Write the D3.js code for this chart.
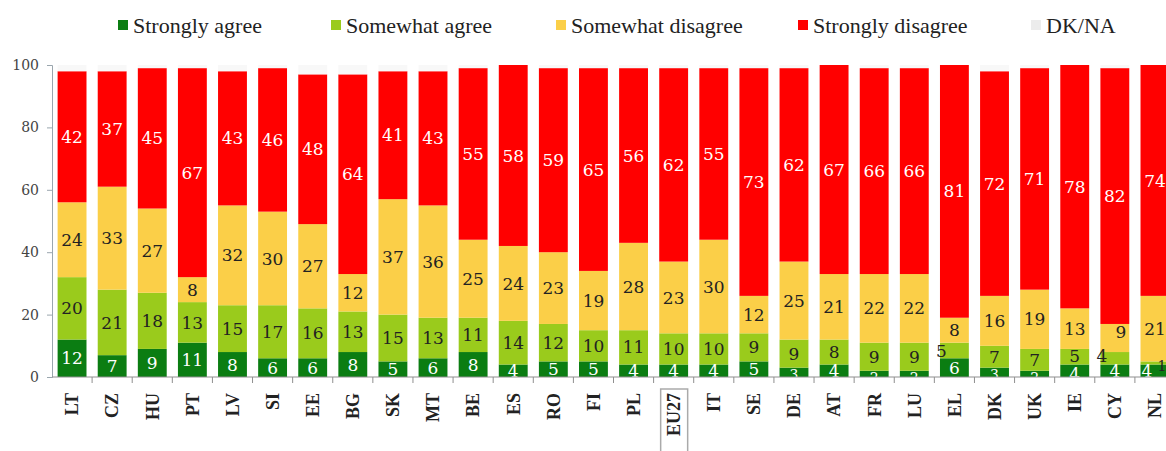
<!DOCTYPE html>
<html>
<head>
<meta charset="utf-8">
<script src="https://cdn.jsdelivr.net/npm/d3@7"></script>
<style>
  body { margin: 0; background: #fff; }
  svg { display: block; }
</style>
</head>
<body>
<div id="chart"></div>
<script>
// countries, left to right
var countries = ["LT", "CZ", "HU", "PT", "LV", "SI", "EE", "BG", "SK", "MT", "BE", "ES", "RO", "FI",
  "PL", "EU27", "IT", "SE", "DE", "AT", "FR", "LU", "EL", "DK", "UK", "IE", "CY", "NL"]

var seriesNames = ["Strongly agree", "Somewhat agree", "Somewhat disagree", "Strongly disagree", "DK/NA"]

var stronglyAgree    = [12, 7, 9, 11, 8, 6, 6, 8, 5, 6, 8, 4, 5, 5, 4, 4, 4, 5, 3, 4, 2, 2, 6, 3, 2, 4, 4, 4]
var somewhatAgree    = [20, 21, 18, 13, 15, 17, 16, 13, 15, 13, 11, 14, 12, 10, 11, 10, 10, 9, 9, 8, 9, 9, 5, 7, 7, 5, 4, 1]
var somewhatDisagree = [24, 33, 27, 8, 32, 30, 27, 12, 37, 36, 25, 24, 23, 19, 28, 23, 30, 12, 25, 21, 22, 22, 8, 16, 19, 13, 9, 21]
var stronglyDisagree = [42, 37, 45, 67, 43, 46, 48, 64, 41, 43, 55, 58, 59, 65, 56, 62, 55, 73, 62, 67, 66, 66, 81, 72, 71, 78, 82, 74]
var dkna             = [2, 2, 1, 1, 2, 1, 3, 3, 2, 2, 1, 0, 1, 1, 1, 1, 1, 1, 1, 0, 1, 1, 0, 2, 1, 0, 1, 0]

var yTicks = [0, 20, 40, 60, 80, 100]

var colors = ["#0b7d12", "#9acb1c", "#fbcf48", "#ff0000", "#f8f8f8"]
var labelColors = ["#fff", "#222", "#222", "#fff", "#222"]

// little nudges for crowded labels in thin segments (country-series)
var nudge = { "EL-1": [-13, 0], "CY-1": [-13, -2], "CY-2": [6, -6], "NL-0": [-8, 0], "NL-1": [7, 3],
  "DK-0": [0, 3], "UK-0": [0, 4], "FR-0": [0, 4], "LU-0": [0, 4], "DE-0": [0, 3], "IE-0": [0, 3], "IE-1": [0, -1] }

var allSeries = [stronglyAgree, somewhatAgree, somewhatDisagree, stronglyDisagree, dkna]

// build rows for the stack
var rows = countries.map(function (c, i) {
  var r = { country: c }
  seriesNames.forEach(function (s, j) { r[s] = allSeries[j][i] })
  return r
})

var W = 1166, H = 451
var svg = d3.select("#chart").append("svg")
  .attr("width", W)
  .attr("height", H)

var x = d3.scaleBand()
  .domain(countries)
  .range([52, 1175])
  .paddingInner(0.28)
  .paddingOuter(0.14)

// same bands with no padding, for the tick marks between bars
var xEdge = d3.scaleBand()
  .domain(countries)
  .range([52, 1175])
  .padding(0)

var y = d3.scaleLinear()
  .domain([0, 100])
  .range([377, 65])

var stack = d3.stack().keys(seriesNames)
var stacked = stack(rows)

// bars
var layers = svg.append("g").selectAll("g")
  .data(stacked)
  .enter()
  .append("g")
  .attr("fill", function (d, i) { return colors[i] })

layers.selectAll("rect")
  .data(function (d) { return d })
  .enter()
  .append("rect")
  .attr("x", function (d) { return x(d.data.country) })
  .attr("width", x.bandwidth())
  .attr("y", function (d) { return y(d[1]) })
  .attr("height", function (d) { return y(d[0]) - y(d[1]) })

// value labels (not for DK/NA)
stacked.slice(0, 4).forEach(function (layer, j) {
  svg.append("g")
    .selectAll("text")
    .data(layer)
    .enter()
    .append("text")
    .attr("x", function (d) {
      var n = nudge[d.data.country + "-" + j]
      return x(d.data.country) + x.bandwidth() / 2 + (n ? n[0] : 0)
    })
    .attr("y", function (d) {
      var n = nudge[d.data.country + "-" + j]
      return (y(d[0]) + y(d[1])) / 2 + (n ? n[1] : 0)
    })
    .attr("dy", "0.36em")
    .attr("text-anchor", "middle")
    .style("font-family", "'DejaVu Serif', serif")
    .style("font-size", function (d) { return (d[1] - d[0]) < 4 ? "14px" : "17px" })
    .style("fill", labelColors[j])
    .text(function (d) { return d[1] - d[0] })
})

// y axis
var yAxis = svg.append("g")
  .attr("transform", "translate(52,0)")
  .call(d3.axisLeft(y).tickValues(yTicks).tickSize(5).tickPadding(8))
yAxis.select(".domain").attr("stroke", "#9aa6ae")
yAxis.selectAll(".tick line").attr("stroke", "#9aa6ae")
yAxis.selectAll("text")
  .style("font-family", "'DejaVu Serif', serif")
  .style("font-size", "14px")
  .style("fill", "#444")

// x axis line + tick marks at band edges
var xAxis = svg.append("g")
xAxis.append("line")
  .attr("x1", 52).attr("x2", W)
  .attr("y1", y(0)).attr("y2", y(0))
  .attr("stroke", "#8f8f8f")
xAxis.selectAll(".xt")
  .data(countries)
  .enter()
  .append("line")
  .attr("class", "xt")
  .attr("x1", function (d) { return xEdge(d) + xEdge.bandwidth() })
  .attr("x2", function (d) { return xEdge(d) + xEdge.bandwidth() })
  .attr("y1", y(0)).attr("y2", y(0) + 6)
  .attr("stroke", "#8f8f8f")

// box round the EU27 label
svg.append("rect")
  .attr("x", x("EU27") + x.bandwidth() / 2 - 13)
  .attr("y", 389)
  .attr("width", 27)
  .attr("height", 70)
  .attr("fill", "none")
  .attr("stroke", "#aaa")
  .attr("stroke-width", 1.5)

xAxis.selectAll(".xl")
  .data(countries)
  .enter()
  .append("text")
  .attr("class", "xl")
  .attr("transform", function (d) {
    return "translate(" + (x(d) + x.bandwidth() / 2) + ",393) rotate(-90)"
  })
  .attr("dy", "0.35em")
  .attr("text-anchor", "end")
  .style("font-family", "'Liberation Serif', serif")
  .style("font-weight", "bold")
  .style("font-size", "18px")
  .style("fill", "#222")
  .text(function (d) { return d })

// legend
var legendX = [118, 331, 556, 798, 1031]
var legend = svg.append("g")
  .selectAll("g")
  .data(seriesNames)
  .enter()
  .append("g")
  .attr("transform", function (d, i) { return "translate(" + legendX[i] + ",0)" })

legend.append("rect")
  .attr("x", 0).attr("y", 20)
  .attr("width", 10).attr("height", 10)
  .attr("fill", function (d, i) { return i === 4 ? "#ececec" : colors[i] })

legend.append("text")
  .attr("x", 15)
  .attr("y", 33)
  .style("font-family", "'Liberation Serif', serif")
  .style("font-size", "22px")
  .style("fill", "#222")
  .text(function (d) { return d })
</script>
</body>
</html>
